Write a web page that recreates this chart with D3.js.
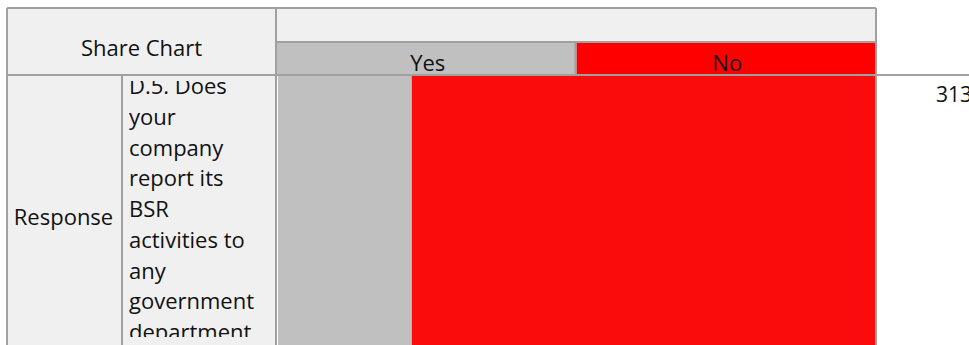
<!DOCTYPE html>
<html>
<head>
<meta charset="utf-8">
<script src="https://cdn.jsdelivr.net/npm/d3@7"></script>
<style>
  html, body { margin: 0; padding: 0; background: #ffffff; overflow: hidden; }
  svg { display: block; }
</style>
</head>
<body>
<svg id="chart" width="969" height="345"></svg>
<script>
// Answer categories and counts for the single survey question
const categories = ["Yes", "No"];
const counts = [70, 243];
const categoryColors = ["#c0c0c0", "#fe0000"];
const barColors = ["#c0c0c0", "#fb0c0c"];
const tableTitle = "Share Chart";
const rowHeader = "Response";
const questionLines = [
  "D.5. Does", "your", "company", "report its", "BSR",
  "activities to", "any", "government", "department"
];

const total = d3.sum(counts);
const W = 969, H = 345;
const font = "'Open Sans', 'Noto Sans', sans-serif";
const fontSize = 22;
const ink = "#111";
const grid = "#a0a0a0";
const cellFill = "#f0f0f0";

// Table frame
const frameLeft = 7, frameTop = 8, headMid = 42, bodyTop = 75;
const col1 = 122, col2 = 276, barLeft = 278, barRight = 876;

const svg = d3.select("#chart");

// Header and label cell backgrounds
const cells = [
  [frameLeft, frameTop, col2, bodyTop],
  [col2, frameTop, barRight, headMid],
  [frameLeft, bodyTop, col1, H],
  [col1, bodyTop, col2, H]
];
svg.append("g").selectAll("rect").data(cells).join("rect")
  .attr("x", d => d[0]).attr("y", d => d[1])
  .attr("width", d => d[2] - d[0]).attr("height", d => d[3] - d[1])
  .attr("fill", cellFill);

// Legend row: one header cell per category
const band = d3.scaleBand().domain(categories).range([col2 + 1, barRight]);
const legend = svg.append("g");
legend.selectAll("rect").data(categories).join("rect")
  .attr("x", d => band(d)).attr("y", headMid)
  .attr("width", band.bandwidth()).attr("height", bodyTop - headMid)
  .attr("fill", (d, i) => categoryColors[i]);
legend.selectAll("text").data(categories).join("text")
  .attr("x", d => band(d) + band.bandwidth() / 2 + 1)
  .attr("y", 71)
  .attr("text-anchor", "middle")
  .attr("font-family", font).attr("font-size", fontSize).attr("fill", ink)
  .text(d => d);

// 100% stacked bar for the response shares
const x = d3.scaleLinear().domain([0, total]).range([barLeft, barRight]);
const stackRow = [Object.fromEntries(categories.map((c, i) => [c, counts[i]]))];
const stacked = d3.stack().keys(categories)(stackRow);
svg.append("g").selectAll("rect").data(stacked).join("rect")
  .attr("x", s => x(s[0][0]))
  .attr("width", s => x(s[0][1]) - x(s[0][0]))
  .attr("y", bodyTop + 1)
  .attr("height", H - bodyTop - 1)
  .attr("fill", (s, i) => barColors[i]);

// Grid lines
const lines = [
  [frameLeft, frameTop, barRight, frameTop],
  [col2, headMid, barRight, headMid],
  [frameLeft, bodyTop, W, bodyTop],
  [frameLeft, frameTop, frameLeft, H],
  [col1, bodyTop, col1, H],
  [col2, frameTop, col2, H],
  [band("No") - 1, headMid, band("No") - 1, bodyTop],
  [barRight, frameTop, barRight, H]
];
svg.append("g").selectAll("line").data(lines).join("line")
  .attr("x1", d => d[0]).attr("y1", d => d[1])
  .attr("x2", d => d[2]).attr("y2", d => d[3])
  .attr("stroke", grid).attr("stroke-width", 2);

// Title and row header
svg.append("text")
  .attr("x", (frameLeft + col2) / 2).attr("y", 56)
  .attr("text-anchor", "middle")
  .attr("font-family", font).attr("font-size", fontSize).attr("fill", ink)
  .text(tableTitle);
svg.append("text")
  .attr("x", (frameLeft + col1) / 2 - 1).attr("y", 225)
  .attr("text-anchor", "middle")
  .attr("font-family", font).attr("font-size", fontSize).attr("fill", ink)
  .text(rowHeader);

// Wrapped question text, clipped to its cell
svg.append("clipPath").attr("id", "qclip")
  .append("rect").attr("x", col1).attr("y", 81)
  .attr("width", col2 - col1).attr("height", 256);
svg.append("g").attr("clip-path", "url(#qclip)")
  .selectAll("text").data(questionLines).join("text")
  .attr("x", 129)
  .attr("y", (d, i) => 94 + i * 30.75)
  .attr("font-family", font).attr("font-size", fontSize).attr("fill", ink)
  .text(d => d);

// Total count, in the column beside the bar
svg.append("text")
  .attr("x", 936).attr("y", 102)
  .attr("font-family", font).attr("font-size", 21).attr("fill", ink)
  .text(total);
</script>
</body>
</html>
